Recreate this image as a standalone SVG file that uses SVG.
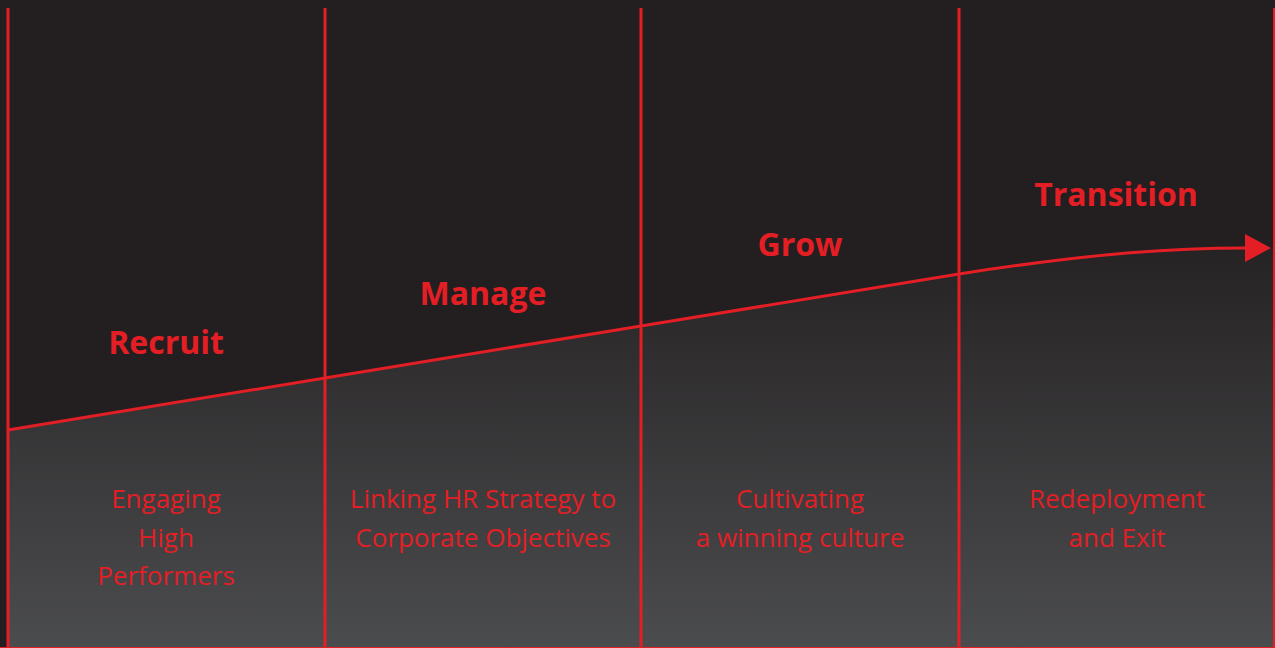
<svg xmlns="http://www.w3.org/2000/svg" width="1275" height="648" viewBox="0 0 1275 648">
<style>
.ln{stroke:#e31e25;stroke-width:3;fill:none}
.title{font-family:"Open Sans","Noto Sans",sans-serif;font-weight:bold;font-size:32px;fill:#e31e25;text-anchor:middle}
.sub{font-family:"Open Sans","Noto Sans",sans-serif;font-size:26px;fill:#e31e25;text-anchor:middle}
</style>
<defs>
<linearGradient id="g" x1="0" y1="250" x2="0" y2="648" gradientUnits="userSpaceOnUse">
<stop offset="0" stop-color="#262324"/>
<stop offset="1" stop-color="#4b4c4e"/>
</linearGradient>
<marker id="arr" markerUnits="userSpaceOnUse" markerWidth="30" markerHeight="30" refX="0" refY="14" orient="auto" viewBox="0 0 30 28">
<path d="M0,0 L26,14 L0,28 Z" fill="#e31e25"/>
</marker>
</defs>
<rect width="1275" height="648" fill="#231f20"/>
<path d="M8,430 L325,378 L641,326 L959,274 C1100,252 1180,248 1245,248 L1275,248 L1275,648 L8,648 Z" fill="url(#g)"/>
<g id="connectors">
<line class="ln" x1="8" y1="8" x2="8" y2="648"/>
<line class="ln" x1="325" y1="8" x2="325" y2="648"/>
<line class="ln" x1="641" y1="8" x2="641" y2="648"/>
<line class="ln" x1="959" y1="8" x2="959" y2="648"/>
<line x1="1274" y1="8" x2="1274" y2="648" stroke="#e31e25" stroke-width="2"/>
<line x1="0" y1="647.5" x2="1275" y2="647.5" stroke="#e31e25" stroke-width="1"/>
<path class="ln" d="M8,430 L325,378 L641,326 L959,274 C1100,252 1180,248 1245,248" marker-end="url(#arr)"/>
</g>
<g id="recruit">
<text class="title" x="166" y="354">Recruit</text>
<text class="sub" x="166" y="508">Engaging</text>
<text class="sub" x="166" y="547">High</text>
<text class="sub" x="166" y="585">Performers</text>
</g>
<g id="manage">
<text class="title" x="483" y="305">Manage</text>
<text class="sub" x="483" y="508">Linking HR Strategy to</text>
<text class="sub" x="483" y="547">Corporate Objectives</text>
</g>
<g id="grow">
<text class="title" x="800" y="256">Grow</text>
<text class="sub" x="800" y="508">Cultivating</text>
<text class="sub" x="800" y="547">a winning culture</text>
</g>
<g id="transition">
<text class="title" x="1116" y="206">Transition</text>
<text class="sub" x="1117" y="508">Redeployment</text>
<text class="sub" x="1117" y="547">and Exit</text>
</g>
</svg>
